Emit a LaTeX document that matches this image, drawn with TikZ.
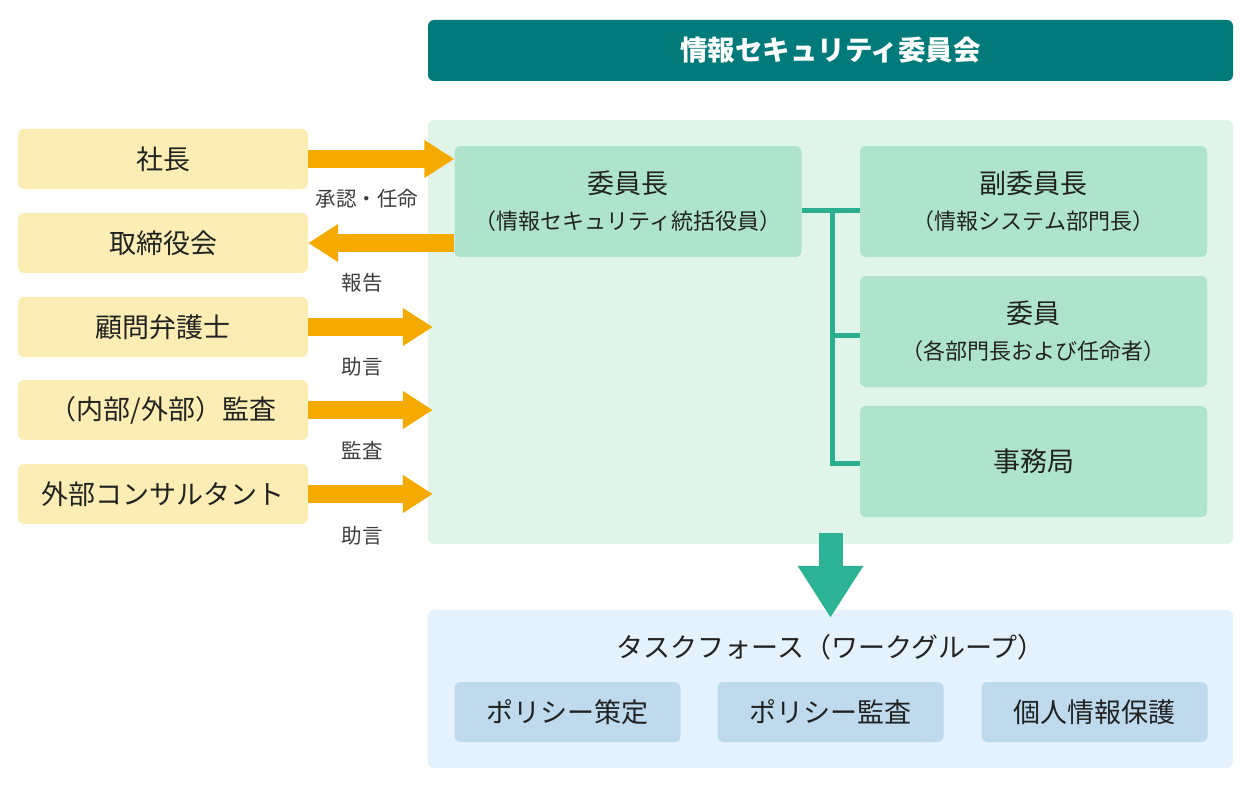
\documentclass[tikz,border=0pt]{standalone}
\usepackage{fontspec}
\setmainfont{Noto Sans CJK JP}
\usetikzlibrary{arrows.meta}
\definecolor{teal1}{RGB}{0,122,122}
\definecolor{gbg}{RGB}{224,244,234}
\definecolor{gbox}{RGB}{174,228,204}
\definecolor{gline}{RGB}{43,174,143}
\definecolor{garr}{RGB}{44,178,148}
\definecolor{ybox}{RGB}{252,237,180}
\definecolor{orng}{RGB}{245,170,0}
\definecolor{bbg}{RGB}{227,242,252}
\definecolor{bbox}{RGB}{190,218,236}
\definecolor{txt}{RGB}{34,34,34}
\definecolor{ltxt}{RGB}{60,60,60}
\newcommand\subtxt{\fontsize{22}{36}\selectfont}
\tikzset{
  base/.style={rectangle, rounded corners=6pt, inner sep=0pt, text=txt, align=center},
  leftbox/.style={base, fill=ybox, minimum width=290pt, minimum height=60pt, font=\fontsize{27}{32}\selectfont},
  gbx/.style={base, fill=gbox, minimum width=347pt, minimum height=111pt, font=\fontsize{27}{36}\selectfont},
  bbx/.style={base, fill=bbox, minimum width=226pt, minimum height=60pt, font=\fontsize{27}{32}\selectfont},
  lbl/.style={text=ltxt, font=\fontsize{20.5}{24}\selectfont, inner sep=0pt},
  oarrow/.style={draw=orng, line width=18pt, -{Triangle[length=30pt,width=36pt]}},
  conn/.style={draw=gline, line width=5pt},
  garrow/.style={draw=garr, line width=24pt, -{Triangle[length=52pt,width=62pt]}},
}
\begin{document}
\begin{tikzpicture}[x=1pt,y=-1pt]
\useasboundingbox (0,0) rectangle (1252,789);
% containers
\node[base, fill=teal1, minimum width=805pt, minimum height=61pt, text=white, font=\fontsize{27.5}{32}\selectfont\bfseries] (title) at (830.5,50.5) {情報セキュリティ委員会};
\node[base, fill=gbg, minimum width=805pt, minimum height=424pt] (green) at (830.5,332) {};
\node[base, fill=bbg, minimum width=805pt, minimum height=158pt] (task) at (830.5,689) {};
% left boxes
\node[leftbox] (shacho) at (163,159) {社長};
\node[leftbox] (tori) at (163,243) {取締役会};
\node[leftbox] (komon) at (163,327) {顧問弁護士};
\node[leftbox] (kansa) at (163,410) {（内部/外部）監査};
\node[leftbox] (consul) at (163,494) {外部コンサルタント};
% committee boxes
\node[gbx] (iincho) at (628,201.5) {委員長\\{\subtxt（情報セキュリティ統括役員）}};
\node[gbx] (fuku) at (1033.5,201.5) {副委員長\\{\subtxt（情報システム部門長）}};
\node[gbx] (iin) at (1033.5,331.5) {委員\\{\subtxt（各部門長および任命者）}};
\node[gbx] (jimu) at (1033.5,461.5) {事務局};
% task force
\node[text=txt, font=\fontsize{27}{32}\selectfont, inner sep=0pt] (tftitle) at (830.5,647) {タスクフォース（ワークグループ）};
\node[bbx] (pol1) at (567.5,712) {ポリシー策定};
\node[bbx] (pol2) at (830.5,712) {ポリシー監査};
\node[bbx] (pol3) at (1094.5,712) {個人情報保護};
% orange arrows
\draw[oarrow] (shacho.east) -- (iincho.west |- shacho.east);
\draw[oarrow] (iincho.west |- tori.east) -- (tori.east);
\draw[oarrow, shorten >=-5pt] (komon.east) -- (green.west |- komon.east);
\draw[oarrow, shorten >=-5pt] (kansa.east) -- (green.west |- kansa.east);
\draw[oarrow, shorten >=-5pt] (consul.east) -- (green.west |- consul.east);
\node[lbl] (l1) at (367,199) {承認・任命};
\node[lbl] (l2) at (362,283) {報告};
\node[lbl] (l3) at (362,367) {助言};
\node[lbl] (l4) at (362,450) {監査};
\node[lbl] (l5) at (362,536) {助言};
% green connectors
\coordinate (j) at (832,210);
\draw[conn] ([yshift=-8.5pt]iincho.east) -- ([yshift=-8.5pt]fuku.west);
\draw[conn] ([yshift=2.5pt]j) |- ([yshift=-1.5pt]jimu.west);
\draw[conn] (j |- iin.west) ++(0,3.5) -- ([yshift=-3.5pt]iin.west);
% down arrow
\draw[garrow, shorten >=-8pt] ([yshift=11pt]green.south) -- (task.north);
\end{tikzpicture}
\end{document}
